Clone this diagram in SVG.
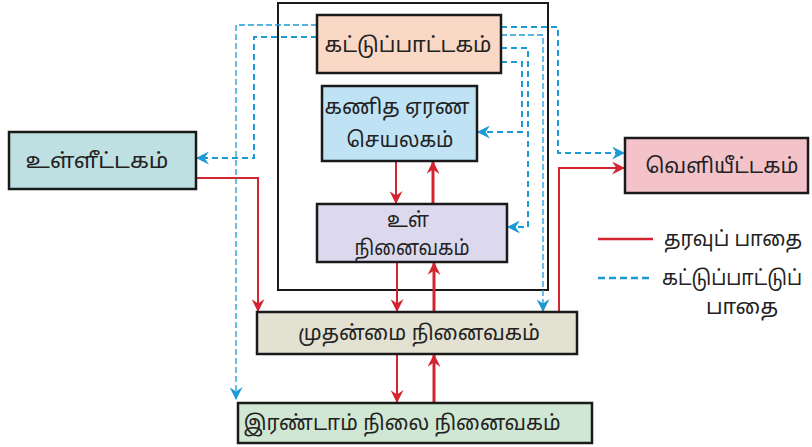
<svg xmlns="http://www.w3.org/2000/svg" width="812" height="447" viewBox="0 0 812 447">
<defs>
<style>
.box{stroke:#1a1a1a;stroke-width:2.5}
.t{font-family:"Noto Sans Tamil","Noto Sans","DejaVu Sans",sans-serif;font-size:21px;fill:#222222;text-anchor:middle}
.d{fill:none;stroke:#d42430;stroke-width:2}
.u{fill:none;stroke:#d42430;stroke-width:3}
.c{fill:none;stroke:#1c9ad6;stroke-width:2;stroke-dasharray:6 4}
.c2{fill:none;stroke:#1c9ad6;stroke-width:1.3;stroke-dasharray:6 3}
</style>
<marker id="ar" viewBox="0 0 12 12" refX="11" refY="6" markerWidth="13" markerHeight="13" markerUnits="userSpaceOnUse" orient="auto">
<path d="M0,0 L12,6 L0,12 L4,6 z" fill="#d42430"/>
</marker>
<marker id="ab" viewBox="0 0 12 12" refX="11" refY="6" markerWidth="13" markerHeight="13" markerUnits="userSpaceOnUse" orient="auto">
<path d="M0,0 L12,6 L0,12 L4,6 z" fill="#1c9ad6"/>
</marker>
</defs>
<rect width="812" height="447" fill="#ffffff"/>
<rect id="cpu" x="278" y="3" width="270" height="287" fill="none" stroke="#1a1a1a" stroke-width="2"/>
<g id="connectors">
<!-- data paths -->
<path class="d" d="M196,178 H258 V311" marker-end="url(#ar)"/>
<path class="d" d="M396,161 V203" marker-end="url(#ar)"/>
<path class="u" d="M433,204 V162" marker-end="url(#ar)"/>
<path class="d" d="M397,262 V311" marker-end="url(#ar)"/>
<path class="u" d="M434,312 V263" marker-end="url(#ar)"/>
<path class="d" d="M397,354 V402" marker-end="url(#ar)"/>
<path class="u" d="M434,403 V355" marker-end="url(#ar)"/>
<path class="d" d="M559,312 V168 H624" marker-end="url(#ar)"/>
<!-- control paths -->
<path class="c2" d="M317,25 H236 V399" marker-end="url(#ab)"/>
<path class="c" d="M317,37 H254 V158 H197" marker-end="url(#ab)"/>
<path class="c" d="M501,27 H558 V153 H624" marker-end="url(#ab)"/>
<path class="c2" d="M501,35 H543 V311" marker-end="url(#ab)"/>
<path class="c" d="M501,48 H528 V227 H508" marker-end="url(#ab)"/>
<path class="c" d="M501,62 H522 V132 H478" marker-end="url(#ab)"/>
</g>
<g id="control">
<rect class="box" x="317" y="15" width="184" height="58" fill="#f9d8c6"/>
<text class="t" x="408" y="52" textLength="167" lengthAdjust="spacingAndGlyphs">கட்டுப்பாட்டகம்</text>
</g>
<g id="alu">
<rect class="box" x="322" y="86" width="155" height="75" fill="#bfe3f5"/>
<text class="t" x="397" y="114" textLength="145" lengthAdjust="spacingAndGlyphs">கணித ஏரண</text>
<text class="t" x="400" y="147" textLength="107" lengthAdjust="spacingAndGlyphs">செயலகம்</text>
</g>
<g id="internal">
<rect class="box" x="317" y="204" width="190" height="58" fill="#dcd9ee"/>
<text class="t" x="408" y="227" textLength="42" lengthAdjust="spacingAndGlyphs">உள்</text>
<text class="t" x="412" y="255" textLength="115" lengthAdjust="spacingAndGlyphs">நினைவகம்</text>
</g>
<g id="input">
<rect class="box" x="9" y="132" width="187" height="57" fill="#bfe0e3"/>
<text class="t" x="97" y="168" textLength="143" lengthAdjust="spacingAndGlyphs">உள்ளீட்டகம்</text>
</g>
<g id="output">
<rect class="box" x="625" y="138" width="183" height="55" fill="#f4c3ca"/>
<text class="t" x="722" y="173" textLength="153" lengthAdjust="spacingAndGlyphs">வெளியீட்டகம்</text>
</g>
<g id="primary">
<rect class="box" x="257" y="312" width="320" height="42" fill="#e3e2d2"/>
<text class="t" x="419" y="340" textLength="242" lengthAdjust="spacingAndGlyphs">முதன்மை நினைவகம்</text>
</g>
<g id="secondary">
<rect class="box" x="238" y="403" width="354" height="40" fill="#d0e7d3"/>
<text class="t" x="402" y="430" textLength="317" lengthAdjust="spacingAndGlyphs">இரண்டாம் நிலை நினைவகம்</text>
</g>
<g id="legend">
<line x1="598" y1="239" x2="653" y2="239" stroke="#d42430" stroke-width="2.5"/>
<text class="t" x="664" y="246" style="text-anchor:start" textLength="138" lengthAdjust="spacingAndGlyphs">தரவுப் பாதை</text>
<line x1="598" y1="278" x2="653" y2="278" stroke="#1c9ad6" stroke-width="2.5" stroke-dasharray="7 4"/>
<text class="t" x="662" y="285" style="text-anchor:start" textLength="140" lengthAdjust="spacingAndGlyphs">கட்டுப்பாட்டுப்</text>
<text class="t" x="742" y="314" textLength="72" lengthAdjust="spacingAndGlyphs">பாதை</text>
</g>
</svg>
